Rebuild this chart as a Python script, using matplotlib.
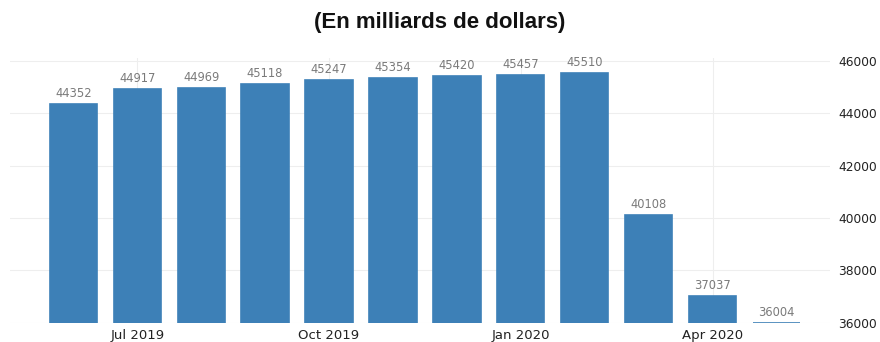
import matplotlib
matplotlib.use("Agg")
import matplotlib.pyplot as plt

# monthly values, Jun 2019 -> May 2020
months = ["Jun 2019", "Jul 2019", "Aug 2019", "Sep 2019", "Oct 2019", "Nov 2019",
          "Dec 2019", "Jan 2020", "Feb 2020", "Mar 2020", "Apr 2020", "May 2020"]
values = [44352, 44917, 44969, 45118, 45247, 45354, 45420, 45457, 45510, 40108, 37037, 36004]
tick_months = ["Jul 2019", "Oct 2019", "Jan 2020", "Apr 2020"]
y_ticks = [36000, 38000, 40000, 42000, 44000, 46000]

bar_colour = "#3d80b7"

plt.rcParams['font.family'] = ['DejaVu Sans']

fig = plt.figure(figsize=(8.8, 3.42), dpi=100)
ax = fig.add_axes([0.0114, 0.0556, 0.932, 0.775])

x = list(range(len(months)))
ax.bar(x, [v - y_ticks[0] for v in values], bottom=y_ticks[0], width=0.74,
       color=bar_colour, edgecolor=bar_colour, linewidth=1.2, zorder=2)

# value labels above each bar
for xi, v in zip(x, values):
    ax.text(xi, v + 150, str(v), ha='center', va='bottom', fontsize=8.3,
            color='#7a7a7a', zorder=3)

ax.set_xlim(-0.99, 11.84)
ax.set_ylim(36000, 46100)

ax.set_xticks([months.index(m) for m in tick_months])
ax.set_xticklabels(tick_months, fontsize=9.5, color='#222222')
ax.set_yticks(y_ticks)
ax.set_yticklabels([str(t) for t in y_ticks], fontsize=8.8, color='#222222')
ax.yaxis.tick_right()
ax.tick_params(axis='both', length=0)
ax.tick_params(axis='y', pad=6)
ax.tick_params(axis='x', pad=4)

ax.grid(True, color='#eeeeee', linewidth=0.8, zorder=0)
ax.set_axisbelow(True)
for s in ax.spines.values():
    s.set_visible(False)

fig.text(0.5, 0.935, "(En milliards de dollars)", ha='center', va='center',
         fontsize=16, fontweight='bold', family=['Liberation Sans', 'DejaVu Sans'],
         color='#111111')

plt.savefig('out.png', dpi=100)
